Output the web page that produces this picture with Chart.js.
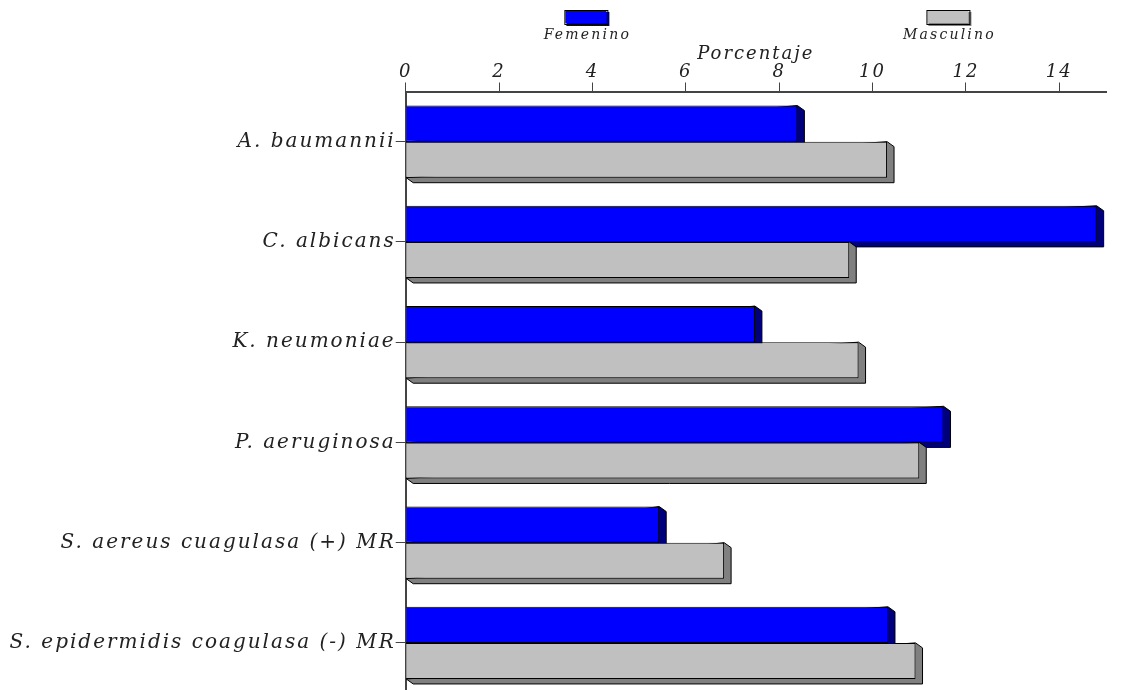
<!DOCTYPE html>
<html>
<head>
<meta charset="utf-8">
<script src="https://cdn.jsdelivr.net/npm/chart.js@4"></script>
<style>
    body { margin: 0; background: #fff; overflow: hidden; }
    #wrap { width: 1121px; height: 705px; position: relative; }
</style>
</head>
<body>
<div id="wrap"><canvas id="chart"></canvas></div>
<script>
/* ================================
   DATA
================================ */
const categories = [
    'A. baumannii',
    'C. albicans',
    'K. neumoniae',
    'P. aeruginosa',
    'S. aereus cuagulasa (+) MR',
    'S. epidermidis coagulasa (-) MR'
];
const femenino = [8.39, 14.8, 7.48, 11.52, 5.43, 10.33];
const masculino = [10.31, 9.5, 9.7, 11.0, 6.82, 10.92];
const seriesNames = ['Femenino', 'Masculino'];
const axisTitle = 'Porcentaje';

const FONT = '"DejaVu Serif", serif';
const sideColors = ['#00007a', '#808080'];

// wide lettering like the original
const spacingPlugin = {
    id: 'spacing',
    beforeDraw(chart) {
        chart.ctx.letterSpacing = '2px';
    }
};

/* ================================
   3D SIDE FACES (drawn behind the bars)
================================ */
const depthPlugin = {
    id: 'depth',
    beforeDatasetsDraw(chart) {
        const { ctx } = chart;
        const dx = 7, dy = 5;
        chart.data.datasets.forEach((ds, i) => {
            chart.getDatasetMeta(i).data.forEach(bar => {
                const left = bar.base, right = bar.x;
                const top = bar.y - bar.height / 2, bottom = bar.y + bar.height / 2;
                ctx.save();
                ctx.beginPath();
                ctx.moveTo(right, top);
                ctx.lineTo(right + dx, top + dy);
                ctx.lineTo(right + dx, bottom + dy);
                ctx.lineTo(left + dx, bottom + dy);
                ctx.lineTo(left, bottom);
                ctx.closePath();
                ctx.fillStyle = sideColors[i];
                ctx.fill();
                ctx.strokeStyle = '#000';
                ctx.lineWidth = 1;
                ctx.stroke();
                ctx.restore();
            });
        });
    }
};

/* ================================
   LEGEND (box with label underneath)
================================ */
const legendPlugin = {
    id: 'boxLegend',
    afterDraw(chart) {
        const { ctx, chartArea } = chart;
        const w = chartArea.right - chartArea.left;
        chart.data.datasets.forEach((ds, i) => {
            const cx = chartArea.left + w * (0.258 + i * 0.517);
            ctx.save();
            ctx.fillStyle = sideColors[i];
            ctx.fillRect(cx - 20, 12, 43, 14);
            ctx.fillStyle = ds.backgroundColor;
            ctx.fillRect(cx - 21, 11, 41, 12);
            ctx.strokeStyle = '#000';
            ctx.lineWidth = 1;
            ctx.strokeRect(cx - 21.5, 10.5, 43, 14);
            ctx.fillStyle = '#222';
            ctx.font = 'italic 14px ' + FONT;
            ctx.letterSpacing = '2.2px';
            ctx.textAlign = 'center';
            ctx.textBaseline = 'middle';
            ctx.fillText(ds.label, cx + 1, 35);
            ctx.restore();
        });
    }
};

new Chart(document.getElementById('chart'), {
    type: 'bar',
    data: {
        labels: categories,
        datasets: [
            {
                label: seriesNames[0],
                data: femenino,
                backgroundColor: '#0000ff',
                borderColor: '#000',
                borderWidth: 1
            },
            {
                label: seriesNames[1],
                data: masculino,
                backgroundColor: '#c0c0c0',
                borderColor: '#000',
                borderWidth: 1
            }
        ]
    },
    options: {
        indexAxis: 'y',
        responsive: true,
        maintainAspectRatio: false,
        animation: false,
        categoryPercentage: 0.72,
        barPercentage: 1,
        layout: { padding: { top: 44, left: 8, right: 15, bottom: 0 } },
        plugins: {
            legend: { display: false },
            tooltip: { enabled: false }
        },
        scales: {
            x: {
                position: 'top',
                min: 0,
                max: 15,
                afterFit: s => { s.height = 47.5; },
                ticks: {
                    stepSize: 2,
                    includeBounds: false,
                    padding: -1,
                    color: '#222',
                    font: { family: FONT, size: 18, style: 'italic' }
                },
                grid: { drawOnChartArea: false, tickLength: 9, color: '#444' },
                border: { color: '#444', width: 2 },
                title: {
                    display: true,
                    text: axisTitle,
                    color: '#222',
                    padding: 0,
                    font: { family: FONT, size: 18, style: 'italic' }
                }
            },
            y: {
                afterFit: s => { s.width = 397.7; },
                ticks: {
                    padding: 0,
                    color: '#222',
                    font: { family: FONT, size: 20, style: 'italic' }
                },
                grid: { offset: false, drawOnChartArea: false, tickLength: 10, color: '#444' },
                border: { color: '#444', width: 2 }
            }
        }
    },
    plugins: [spacingPlugin, depthPlugin, legendPlugin]
});
</script>
</body>
</html>
